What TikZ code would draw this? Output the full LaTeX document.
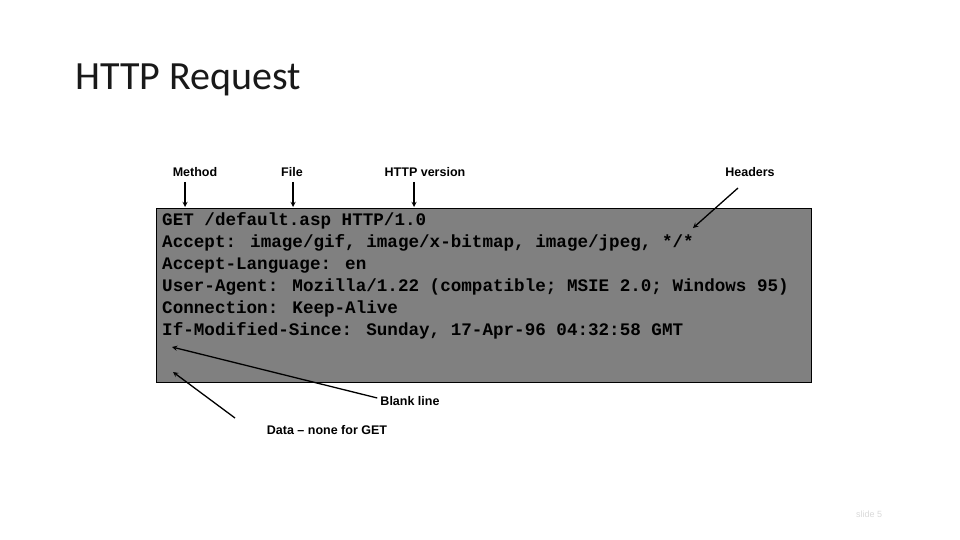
\documentclass[tikz,border=0pt]{standalone}
\usepackage{fontspec}
\setmainfont{Liberation Sans}
\newfontfamily\titlefont{Carlito}
\newfontfamily\codefont{Liberation Mono}
\usetikzlibrary{positioning}

\begin{document}
\begin{tikzpicture}[x=1pt, y=-1pt]
            \useasboundingbox (0,0) rectangle (960,540);
            \tikzset{lbl/.style={font=\bfseries\fontsize{12.5}{14}\selectfont, inner sep=0pt},
                     pointer/.style={->, >=stealth, line width=1.3pt}}
            
            % Titre
            \node[font=\titlefont\fontsize{40}{44}\selectfont, anchor=west, gray!20!black] (title) at (72,80) {HTTP Request};
            
            % Boite de requete
            \draw[fill=black!50, line width=0.6pt] (156,208) rectangle (811,382);
            \coordinate (blank) at (172,347);
            \coordinate (data) at (173,372);
            \node[anchor=north west, align=left, inner sep=0pt, font=\codefont\bfseries\fontsize{17.6}{22}\selectfont] (req) at (162,212) {%
GET /default.asp HTTP/1.0\\
Accept: image/gif, image/x-bitmap, image/jpeg, */*\\
Accept-Language: en\\
User-Agent: Mozilla/1.22 (compatible; MSIE 2.0; Windows 95)\\
Connection: Keep-Alive\\
If-Modified-Since: Sunday, 17-Apr-96 04:32:58 GMT};
            
            % Etiquettes
            \node[lbl] (method) at (195,172) {Method};
            \node[lbl] (file) at (292,172) {File};
            \node[lbl] (version) at (425,172) {HTTP version};
            \node[lbl] (headers) at (750,172) {Headers};
            \node[lbl] (blanklbl) at (410,401) {Blank line};
            \node[lbl] (datalbl) at (327,430) {Data -- none for GET};
            
            % Fleches
            \coordinate (mtip) at (185,207);
            \coordinate (ftip) at (293,207);
            \coordinate (vtip) at (414,207);
            \coordinate (htip) at (693,228);
            \draw[pointer] (185,182) -- (mtip);
            \draw[pointer] (293,182) -- (ftip);
            \draw[pointer] (414,182) -- (vtip);
            \draw[pointer] (738,188) -- (htip);
            \draw[pointer] (blanklbl.west) ++(-3,-3) -- (blank);
            \draw[pointer] (235,418) -- (data);
            
            \node[font=\fontsize{9}{10}\selectfont, gray!30] (slide) at (869,514) {slide 5};
        \end{tikzpicture}
\end{document}
